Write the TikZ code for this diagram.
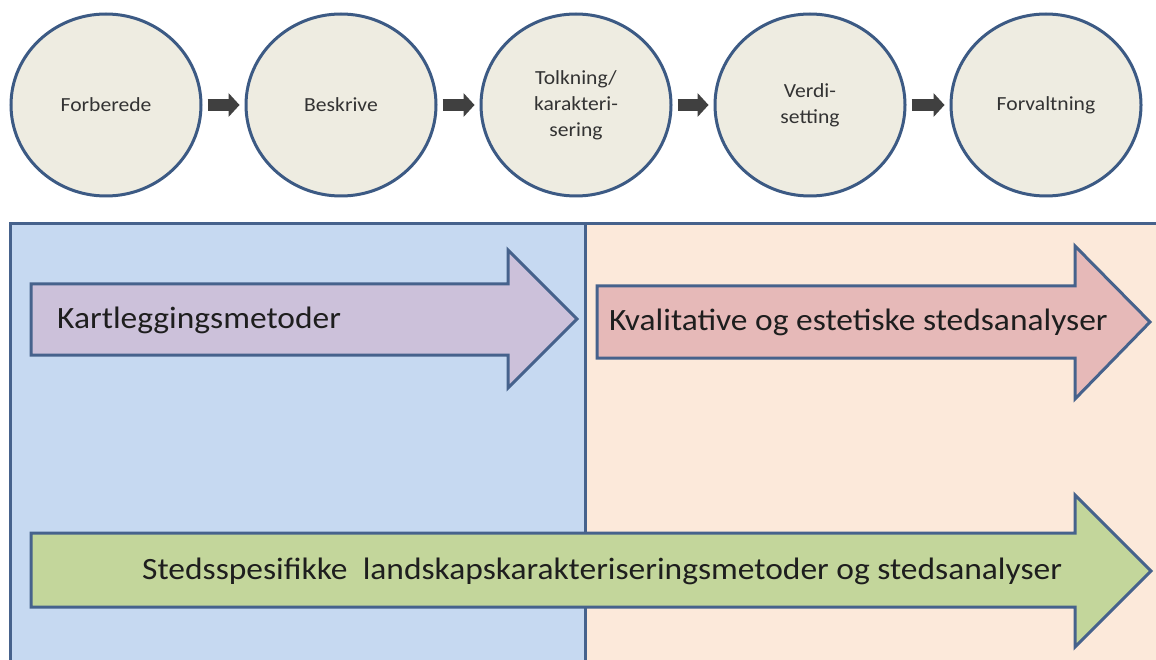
\documentclass[tikz,border=0pt]{standalone}
\usepackage{fontspec}
\setmainfont{Carlito}[FakeStretch=1.08]
\usetikzlibrary{shapes.geometric,arrows.meta}
\definecolor{panelline}{HTML}{46628C}
\definecolor{leftfill}{HTML}{C6D9F1}
\definecolor{rightfill}{HTML}{FCE9DA}
\definecolor{circleline}{HTML}{3C5A84}
\definecolor{circlefill}{HTML}{EEECE1}
\definecolor{flowgray}{HTML}{404040}
\definecolor{purplefill}{HTML}{CCC1DA}
\definecolor{pinkfill}{HTML}{E6B9B8}
\definecolor{greenfill}{HTML}{C3D69B}
\definecolor{stagetext}{HTML}{333333}
\definecolor{bigtextcol}{HTML}{1E1E1E}
\begin{document}
\begin{tikzpicture}[x=1pt,y=-1pt,
  stage/.style={ellipse, draw=circleline, line width=3pt, fill=circlefill,
    minimum width=190pt, minimum height=182pt, inner sep=0pt, align=center,
    font=\fontsize{20}{26}\selectfont, text=stagetext},
  flowarrow/.style={draw=flowgray, line width=12pt,
    -{Triangle[length=11pt,width=24pt,line width=0pt]},
    shorten <=5pt, shorten >=5pt},
  panelbox/.style={draw=panelline, line width=3pt},
  bigarrow/.style={draw=panelline, line width=3pt, line join=miter},
  bigtext/.style={anchor=base west, inner sep=0pt, text=bigtextcol,
    font=\fontsize{31}{36}\selectfont}
]
\useasboundingbox (0,0) rectangle (1156,660);
\clip (0,0) rectangle (1156,660);
\fill[white] (0,0) rectangle (1156,660);

% panels
\draw[panelbox, fill=leftfill] (10,224) rectangle (585,720);
\draw[panelbox, fill=rightfill] (585,224) rectangle (1220,720);

% big arrows
\draw[bigarrow, fill=purplefill] (31,284) -- (508,284) -- (508,250) -- (577,319)
  -- (508,388) -- (508,355) -- (31,355) -- cycle;
\draw[bigarrow, fill=pinkfill] (597,286) -- (1075,286) -- (1075,246) -- (1150,322)
  -- (1075,399) -- (1075,358) -- (597,358) -- cycle;
\draw[bigarrow, fill=greenfill] (31,533) -- (1075,533) -- (1075,495) -- (1151,571)
  -- (1075,647) -- (1075,607) -- (31,607) -- cycle;

\node[bigtext] (t1) at (57,328) {Kartleggingsmetoder};
\node[bigtext] (t2) at (609,330) {Kvalitative og estetiske stedsanalyser};
\node[bigtext] (t3) at (142,579) {Stedsspesifikke\ \ landskapskarakteriseringsmetoder og stedsanalyser};

% stages
\node[stage] (c1) at (106,105) {Forberede};
\node[stage] (c2) at (341,105) {Beskrive};
\node[stage] (c3) at (576,105) {Tolkning/\\karakteri-\\sering};
\node[stage] (c4) at (810,105) {Verdi-\\setting};
\node[stage] (c5) at (1046,105) {Forvaltning};

\draw[flowarrow] (c1) -- (c2);
\draw[flowarrow] (c2) -- (c3);
\draw[flowarrow] (c3) -- (c4);
\draw[flowarrow] (c4) -- (c5);
\end{tikzpicture}
\end{document}
